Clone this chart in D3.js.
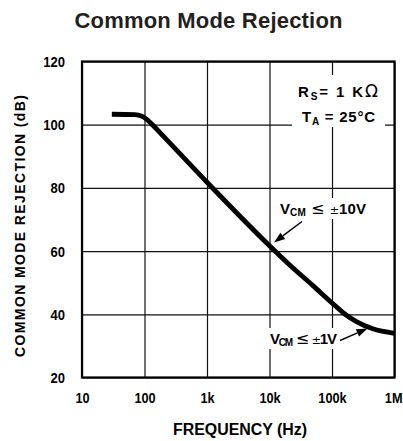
<!DOCTYPE html>
<html>
<head>
<meta charset="utf-8">
<script src="https://cdn.jsdelivr.net/npm/d3@7"></script>
<style>
  body { margin: 0; background: #fff; }
  svg { display: block; }
  .tick text { font-family: "Liberation Sans", Arial, sans-serif; font-weight: bold; font-size: 15.5px; fill: #000; }
  .grid .domain { display: none; }
  .grid line { stroke: #111; stroke-width: 1.2; }
  .note { font-family: "Liberation Sans", Arial, sans-serif; font-weight: bold; font-size: 15px; fill: #000; }
  .thin { font-family: "DejaVu Sans", sans-serif; font-weight: normal; }
</style>
</head>
<body>
<script>
// curve (frequency in Hz, rejection in dB)
var freq = [30, 70, 90, 110, 140, 200, 1000, 10000, 20000, 50000, 100000, 160000, 250000, 450000, 1000000];
var cmr  = [103.3, 103.2, 102.7, 101.6, 99.6, 96.4, 81.8, 61.7, 56.0, 49.0, 43.6, 40.1, 37.6, 35.4, 34.0];

var xTicks = [10, 100, 1e3, 1e4, 1e5, 1e6];
var xTickLabels = ["10", "100", "1k", "10k", "100k", "1M"];
var yTicks = [20, 40, 60, 80, 100, 120];

var W = 403, H = 441;
var pLeft = 82, pRight = 394.5, pTop = 61.5, pBottom = 377.5;

var svg = d3.select("body").append("svg")
    .attr("width", W)
    .attr("height", H);

var x = d3.scaleLog().domain([10, 1e6]).range([pLeft, pRight]);
var y = d3.scaleLinear().domain([20, 120]).range([pBottom, pTop]);

// squeeze a bold label so it looks like the narrow face of the original
function narrow(sel, k) {
  sel.each(function() {
    var w = this.getComputedTextLength();
    d3.select(this).attr("textLength", w * k).attr("lengthAdjust", "spacingAndGlyphs");
  });
}

// title
svg.append("text")
    .attr("x", 208.5)
    .attr("y", 27.5)
    .attr("text-anchor", "middle")
    .style("font-family", "'Liberation Sans', Arial, sans-serif")
    .style("font-weight", "bold")
    .style("font-size", "22px")
    .style("fill", "#231f20")
    .attr("textLength", 268)
    .text("Common Mode Rejection");

// grid + tick labels
var gx = svg.append("g")
    .attr("class", "grid")
    .attr("transform", "translate(0," + pBottom + ")")
    .call(d3.axisBottom(x).tickValues(xTicks)
        .tickFormat(function(d, i) { return xTickLabels[i]; })
        .tickSize(-(pBottom - pTop)).tickPadding(14));

var gy = svg.append("g")
    .attr("class", "grid")
    .attr("transform", "translate(" + pLeft + ",0)")
    .call(d3.axisLeft(y).tickValues(yTicks)
        .tickSize(-(pRight - pLeft)).tickPadding(17));

narrow(gx.selectAll(".tick text"), 0.82);
narrow(gy.selectAll(".tick text"), 0.84);
// the last label sits against the page edge: pin its right end inside
gx.selectAll(".tick text").filter(function(d) { return d === 1e6; })
    .attr("text-anchor", "end")
    .attr("x", W - 1 - x(1e6));

// white patches behind the notes
var patches = [[292, 75, 93, 52], [278, 198, 90, 21], [267, 328, 72, 21]];
svg.selectAll(".patch").data(patches).enter().append("rect")
    .attr("x", function(d) { return d[0]; })
    .attr("y", function(d) { return d[1]; })
    .attr("width", function(d) { return d[2]; })
    .attr("height", function(d) { return d[3]; })
    .attr("fill", "#fff");

// frame
svg.append("rect")
    .attr("x", pLeft).attr("y", pTop)
    .attr("width", pRight - pLeft).attr("height", pBottom - pTop)
    .attr("fill", "none")
    .attr("stroke", "#000")
    .attr("stroke-width", 2.2);

// the curve
var pts = freq.map(function(f, i) { return [f, cmr[i]]; });
var line = d3.line()
    .x(function(d) { return x(d[0]); })
    .y(function(d) { return y(d[1]); })
    .curve(d3.curveMonotoneX);

svg.append("path")
    .datum(pts)
    .attr("d", line)
    .attr("fill", "none")
    .attr("stroke", "#000")
    .attr("stroke-width", 4.8)
    .attr("stroke-linecap", "butt");

// notes
var n1 = svg.append("text").attr("class", "note").attr("x", 298).attr("y", 97)
    .attr("textLength", 80).attr("lengthAdjust", "spacing");
n1.append("tspan").text("R");
n1.append("tspan").attr("dy", 3).style("font-size", "10px").text("S");
n1.append("tspan").attr("dy", -3).text("= 1 K");
n1.append("tspan").attr("class", "thin").style("font-size", "17px").text("Ω");

var n2 = svg.append("text").attr("class", "note").attr("x", 302).attr("y", 122)
    .attr("textLength", 73).attr("lengthAdjust", "spacing");
n2.append("tspan").text("T");
n2.append("tspan").attr("dy", 3).style("font-size", "10px").text("A");
n2.append("tspan").attr("dy", -3).text(" = 25°C");

function vcm(xp, yp, value, len) {
  var t = svg.append("text").attr("class", "note").attr("x", xp).attr("y", yp)
      .attr("textLength", len).attr("lengthAdjust", "spacing");
  t.append("tspan").text("V");
  t.append("tspan").attr("dy", 2).style("font-size", "10px").text("CM");
  t.append("tspan").attr("dy", -2).attr("class", "thin").style("font-size", "16px").text(" ≤ ");
  t.append("tspan").attr("class", "thin").style("font-size", "11px").text("±");
  t.append("tspan").text(value);
}
vcm(280, 214, "10V", 86);
vcm(270, 344, "1V", 67);

// arrows
function arrow(x1, y1, x2, y2) {
  var a = Math.atan2(y2 - y1, x2 - x1), len = 11, wid = 4;
  var bx = x2 - len * Math.cos(a), by = y2 - len * Math.sin(a);
  svg.append("line")
      .attr("x1", x1).attr("y1", y1).attr("x2", bx).attr("y2", by)
      .attr("stroke", "#000").attr("stroke-width", 1.4);
  var p = [[x2, y2],
           [bx + wid * Math.sin(a), by - wid * Math.cos(a)],
           [bx - wid * Math.sin(a), by + wid * Math.cos(a)]];
  svg.append("path").attr("d", "M" + p.join("L") + "Z").attr("fill", "#000");
}
arrow(302, 221.5, 274, 242.5);
arrow(340, 340.5, 367.5, 328.5);

// axis titles
svg.append("text")
    .attr("x", 240)
    .attr("y", 435)
    .attr("text-anchor", "middle")
    .attr("class", "note")
    .style("font-size", "16px")
    .attr("textLength", 134)
    .attr("lengthAdjust", "spacingAndGlyphs")
    .text("FREQUENCY (Hz)");

svg.append("text")
    .attr("transform", "translate(25,226)rotate(-90)")
    .attr("text-anchor", "middle")
    .attr("class", "note")
    .style("font-size", "14px")
    .attr("textLength", 262)
    .attr("lengthAdjust", "spacing")
    .text("COMMON MODE REJECTION (dB)");
</script>
</body>
</html>
